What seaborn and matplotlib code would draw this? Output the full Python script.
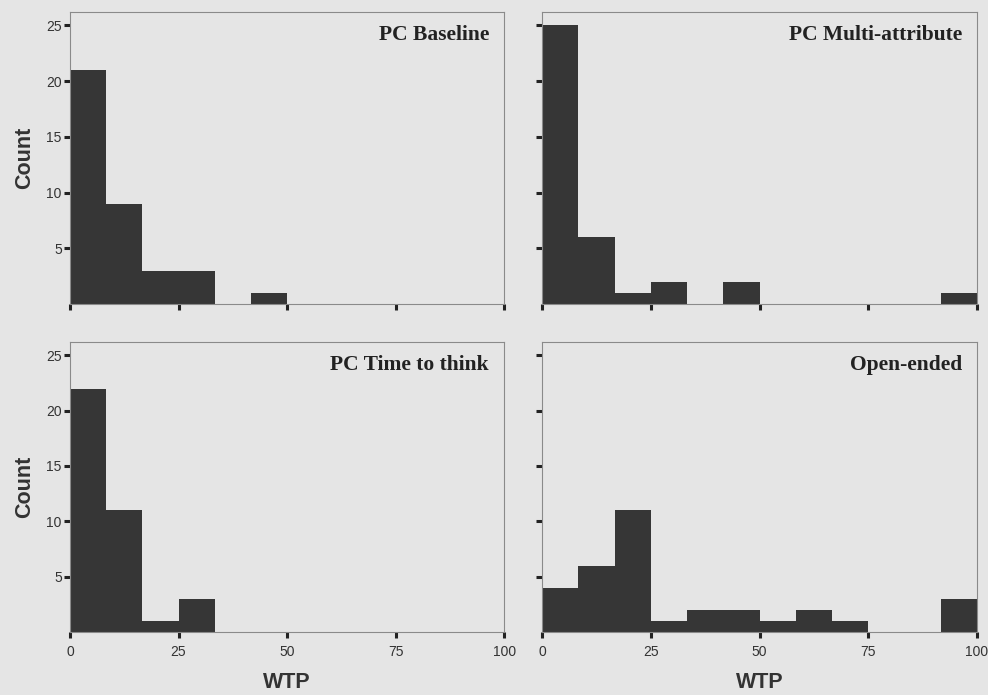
import numpy as np
import pandas as pd
import matplotlib
matplotlib.use("Agg")
import matplotlib.pyplot as plt
import seaborn as sns

# ---- data (bin counts; 12 bins of width 100/12) ----
bin_edges = list(np.linspace(0, 100, 13))
panel_titles = ["PC Baseline", "PC Multi-attribute", "PC Time to think", "Open-ended"]
counts_baseline = [21, 9, 3, 3, 0, 1, 0, 0, 0, 0, 0, 0]
counts_multi = [25, 6, 1, 2, 0, 2, 0, 0, 0, 0, 0, 1]
counts_time = [22, 11, 1, 3, 0, 0, 0, 0, 0, 0, 0, 0]
counts_open = [4, 6, 11, 1, 2, 2, 1, 2, 1, 0, 0, 3]
x_ticks = [0, 25, 50, 75, 100]
y_ticks = [5, 10, 15, 20, 25]

sns.set_style("white")
plt.rcParams["font.family"] = ["Liberation Sans", "DejaVu Sans"]

BG = "#e5e5e5"
BAR = "#363636"

fig = plt.figure(figsize=(9.88, 6.95), dpi=100, facecolor=BG)

positions = [
    [0.0709, 0.5626, 0.4393, 0.4201],
    [0.5486, 0.5626, 0.4403, 0.4201],
    [0.0709, 0.0906, 0.4393, 0.4173],
    [0.5486, 0.0906, 0.4403, 0.4173],
]
all_counts = [counts_baseline, counts_multi, counts_time, counts_open]

centers = [(bin_edges[i] + bin_edges[i + 1]) / 2 for i in range(12)]

for i, (pos, cnts, title) in enumerate(zip(positions, all_counts, panel_titles)):
    ax = fig.add_axes(pos)
    ax.set_facecolor(BG)
    df = pd.DataFrame({"WTP": centers, "n": cnts})
    sns.histplot(data=df, x="WTP", weights="n", bins=bin_edges, ax=ax,
                 color=BAR, edgecolor=BAR, linewidth=0, alpha=1.0)
    ax.set_xlim(0, 100)
    ax.set_ylim(0, 26.2)
    ax.set_xticks(x_ticks)
    ax.set_yticks(y_ticks)
    ax.tick_params(axis="both", which="major", bottom=True, left=True,
                   direction="out", length=4, width=2.2,
                   color="#222222", labelsize=10, labelcolor="#333333", pad=2)
    ax.tick_params(axis="x", pad=5)
    for s in ax.spines.values():
        s.set_color("#8a8a8a")
        s.set_linewidth(0.8)
    row, col = divmod(i, 2)
    if row == 0:
        ax.set_xticklabels([])
        ax.set_xlabel("")
    else:
        ax.set_xlabel("WTP", fontsize=15.5, fontweight="bold", color="#333333", labelpad=10)
    if col == 1:
        ax.set_yticklabels([])
        ax.set_ylabel("")
    else:
        ax.set_ylabel("Count", fontsize=15.5, fontweight="bold", color="#333333", labelpad=8)
    ax.text(0.965, 0.955, title, transform=ax.transAxes, ha="right", va="top",
            fontsize=15.5, fontweight="bold", color="#222222",
            family=["Liberation Serif", "DejaVu Serif"])

fig.savefig("out.png", dpi=100, facecolor=BG)
